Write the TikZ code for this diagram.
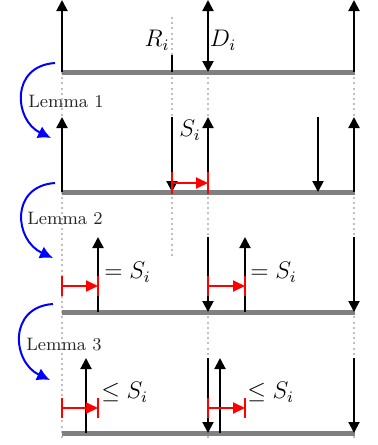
\documentclass[tikz,border=0pt]{standalone}
\usetikzlibrary{arrows.meta}
\begin{document}
\begin{tikzpicture}[x=0.5pt,y=-0.5pt,
  base/.style={line width=2.5pt, gray},
  guide/.style={line width=1pt, black!25, dash pattern=on 1pt off 1.6pt},
  vec/.style={line width=1pt, -{Triangle[width=5.5pt,length=5.5pt]}},
  dvec/.style={line width=1pt, {Triangle[width=5.5pt,length=5.5pt]}-{Triangle[width=5.5pt,length=5.5pt]}},
  tick/.style={line width=1pt},
  shiftarr/.style={line width=1pt, red, -{Triangle[width=5.5pt,length=6pt]}},
  barmark/.style={line width=1pt, red},
  lem/.style={line width=1pt, blue, -{Latex[width=6.5pt,length=6.5pt]}},
  lemtext/.style={font=\small, inner sep=0pt, text=black!85},
  lab/.style={inner sep=0pt, font=\fontsize{11.5}{13}\selectfont},
]
\useasboundingbox (0,0) rectangle (378,445);
% guides
\coordinate (gA1) at (62,72);   \coordinate (gA2) at (62,440);
\coordinate (gB0) at (172,17);  \coordinate (gB1) at (172,55);
\coordinate (gB2) at (172,72);  \coordinate (gB3) at (172,258);
\coordinate (gC1) at (208,72);  \coordinate (gC2) at (208,440);
\coordinate (gD1) at (354,72);  \coordinate (gD2) at (354,440);
\draw[guide] (gA1) -- (gA2);
\draw[guide] (gB0) -- (gB1);
\draw[guide] (gB2) -- (gB3);
\draw[guide] (gC1) -- (gC2);
\draw[guide] (gD1) -- (gD2);

% ---------- row 1 ----------
\coordinate (b1l) at (62,72); \coordinate (b1r) at (355,72);
\draw[base] (b1l) -- (b1r);
\coordinate (r1a0) at (62,72);  \coordinate (r1a1) at (62,0);
\coordinate (r1e0) at (354,72); \coordinate (r1e1) at (354,0);
\coordinate (r1d0) at (208,0);  \coordinate (r1d1) at (208,72);
\coordinate (r1t0) at (172,55); \coordinate (r1t1) at (172,72);
\draw[vec] (r1a0) -- (r1a1);
\draw[vec] (r1e0) -- (r1e1);
\draw[dvec] (r1d0) -- (r1d1);
\draw[tick] (r1t0) -- (r1t1);
\node[lab] (Rlab) at (157,40) {$R_i$};
\node[lab] (Dlab) at (223,40) {$D_i$};

% ---------- row 2 ----------
\coordinate (b2l) at (62,192); \coordinate (b2r) at (355,192);
\draw[base] (b2l) -- (b2r);
\coordinate (r2a0) at (62,192);  \coordinate (r2a1) at (62,117);
\coordinate (r2b0) at (172,117); \coordinate (r2b1) at (172,192);
\coordinate (r2c0) at (208,192); \coordinate (r2c1) at (208,117);
\coordinate (r2d0) at (318,117); \coordinate (r2d1) at (318,192);
\coordinate (r2e0) at (354,192); \coordinate (r2e1) at (354,117);
\draw[vec] (r2a0) -- (r2a1);
\draw[vec] (r2b0) -- (r2b1);
\draw[vec] (r2c0) -- (r2c1);
\draw[vec] (r2d0) -- (r2d1);
\draw[vec] (r2e0) -- (r2e1);
\node[lab] (Slab) at (190,130) {$S_i$};
\coordinate (s2a) at (172,183); \coordinate (s2b) at (208,183);
\coordinate (s2a1) at (172,172); \coordinate (s2a2) at (172,194);
\coordinate (s2b1) at (208,172); \coordinate (s2b2) at (208,194);
\draw[barmark] (s2a1) -- (s2a2);
\draw[barmark] (s2b1) -- (s2b2);
\draw[shiftarr] (s2a) -- (s2b);

% ---------- row 3 ----------
\coordinate (b3l) at (62,312); \coordinate (b3r) at (355,312);
\draw[base] (b3l) -- (b3r);
\coordinate (r3a0) at (98,312);  \coordinate (r3a1) at (98,237);
\coordinate (r3b0) at (208,237); \coordinate (r3b1) at (208,312);
\coordinate (r3c0) at (245,312); \coordinate (r3c1) at (245,237);
\coordinate (r3d0) at (354,237); \coordinate (r3d1) at (354,312);
\draw[vec] (r3a0) -- (r3a1);
\draw[vec] (r3b0) -- (r3b1);
\draw[vec] (r3c0) -- (r3c1);
\draw[vec] (r3d0) -- (r3d1);
\node[lab, anchor=west] (eq1) at (104,272) {$=S_i$};
\node[lab, anchor=west] (eq2) at (250,272) {$=S_i$};
\coordinate (s3a) at (62,286);  \coordinate (s3b) at (98,286);
\coordinate (s3a1) at (62,276); \coordinate (s3a2) at (62,296);
\coordinate (s3b1) at (98,276); \coordinate (s3b2) at (98,296);
\draw[barmark] (s3a1) -- (s3a2);
\draw[barmark] (s3b1) -- (s3b2);
\draw[shiftarr] (s3a) -- (s3b);
\coordinate (s3c) at (208,286);  \coordinate (s3d) at (245,286);
\coordinate (s3c1) at (208,276); \coordinate (s3c2) at (208,296);
\coordinate (s3d1) at (245,276); \coordinate (s3d2) at (245,296);
\draw[barmark] (s3c1) -- (s3c2);
\draw[barmark] (s3d1) -- (s3d2);
\draw[shiftarr] (s3c) -- (s3d);

% ---------- row 4 ----------
\coordinate (b4l) at (62,433); \coordinate (b4r) at (355,433);
\draw[base] (b4l) -- (b4r);
\coordinate (r4a0) at (86,433);  \coordinate (r4a1) at (86,358);
\coordinate (r4b0) at (208,358); \coordinate (r4b1) at (208,433);
\coordinate (r4c0) at (220,433); \coordinate (r4c1) at (220,358);
\coordinate (r4d0) at (354,358); \coordinate (r4d1) at (354,433);
\draw[vec] (r4a0) -- (r4a1);
\draw[vec] (r4b0) -- (r4b1);
\draw[vec] (r4c0) -- (r4c1);
\draw[vec] (r4d0) -- (r4d1);
\node[lab, anchor=west] (le1) at (101,392) {$\leq S_i$};
\node[lab, anchor=west] (le2) at (247,392) {$\leq S_i$};
\coordinate (s4a) at (62,408);  \coordinate (s4b) at (98,408);
\coordinate (s4a1) at (62,398); \coordinate (s4a2) at (62,418);
\coordinate (s4b1) at (98,398); \coordinate (s4b2) at (98,418);
\draw[barmark] (s4a1) -- (s4a2);
\draw[barmark] (s4b1) -- (s4b2);
\draw[shiftarr] (s4a) -- (s4b);
\coordinate (s4c) at (208,408);  \coordinate (s4d) at (245,408);
\coordinate (s4c1) at (208,398); \coordinate (s4c2) at (208,418);
\coordinate (s4d1) at (245,398); \coordinate (s4d2) at (245,418);
\draw[barmark] (s4c1) -- (s4c2);
\draw[barmark] (s4d1) -- (s4d2);
\draw[shiftarr] (s4c) -- (s4d);

% ---------- lemma arcs ----------
\coordinate (L1s) at (55,63);  \coordinate (L1e) at (51,138);
\coordinate (L2s) at (55,183); \coordinate (L2e) at (53,258);
\coordinate (L3s) at (53,304); \coordinate (L3e) at (50,380);
\draw[lem] (L1s) .. controls (10,66) and (14,120) .. (L1e);
\draw[lem] (L2s) .. controls (10,186) and (14,240) .. (L2e);
\draw[lem] (L3s) .. controls (8,307) and (12,362) .. (L3e);
\node[lemtext] (lemma1) at (66,101) {Lemma 1};
\node[lemtext] (lemma2) at (65,218) {Lemma 2};
\node[lemtext] (lemma3) at (64,345) {Lemma 3};
\end{tikzpicture}
\end{document}
